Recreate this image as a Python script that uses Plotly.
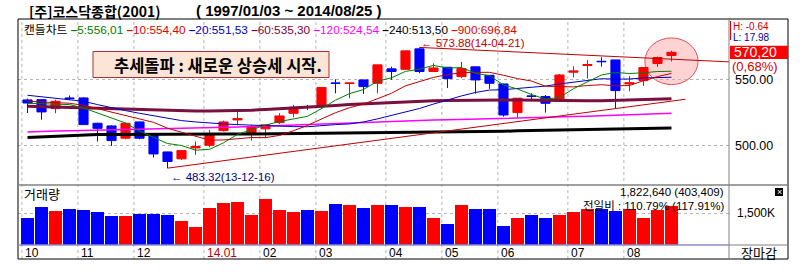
import plotly.graph_objects as go

# ---------------- data (weekly candles, 2013-10-07 .. 2014-08-25) ----------------
week_idx = list(range(47))
opens = [534.5, 534.7, 528.0, 536.0, 536.0, 517.0, 515.0, 505.8, 518.0, 508.8,
         495.5, 490.3, 498.5, 500.5, 511.5, 519.5, 509.5, 512.8, 517.5, 524.5,
         529.3, 530.0, 547.2, 546.8, 549.5, 547.0, 557.8, 557.5, 572.8, 555.8,
         559.0, 552.0, 559.3, 553.0, 546.5, 525.0, 537.5, 537.0, 533.5, 555.3,
         560.3, 563.5, 564.5, 546.5, 549.0, 561.8, 567.8]
highs = [535.5, 535.2, 534.7, 537.8, 536.5, 517.5, 515.5, 517.5, 518.2, 509.0,
         495.6, 497.0, 503.3, 512.0, 519.0, 526.0, 515.8, 516.0, 524.5, 530.8,
         530.8, 543.8, 550.0, 547.5, 549.6, 560.8, 559.5, 571.3, 573.88, 562.0,
         559.2, 563.0, 559.5, 553.2, 546.6, 535.8, 539.5, 538.2, 554.0, 559.7,
         564.5, 566.5, 564.6, 552.5, 559.0, 567.0, 571.5]
lows = [524.7, 519.7, 524.5, 534.3, 516.0, 503.3, 500.0, 505.0, 505.0, 491.3,
        483.32, 489.5, 493.3, 499.0, 510.8, 515.5, 504.0, 505.8, 516.5, 521.5,
        527.0, 527.8, 539.5, 535.8, 539.0, 539.5, 549.5, 557.0, 554.5, 555.5,
        543.5, 550.8, 539.2, 542.8, 522.0, 521.0, 534.5, 525.0, 533.0, 551.5,
        550.5, 559.5, 528.3, 541.0, 545.0, 559.3, 563.4]
closes = [532.2, 525.5, 533.5, 535.5, 516.0, 513.2, 504.0, 517.0, 505.8, 494.0,
          488.3, 496.5, 499.5, 509.0, 518.0, 520.5, 514.5, 515.8, 522.5, 529.0,
          529.0, 543.8, 547.0, 547.2, 544.5, 560.8, 555.8, 571.3, 555.8, 558.5,
          550.5, 558.0, 549.5, 547.0, 523.2, 535.8, 537.2, 532.0, 553.2, 556.2,
          561.0, 563.2, 541.5, 547.3, 558.8, 566.3, 570.2]
volumes = [1280000, 1795000, 1608000, 1702000, 1655000, 1561000, 1373000, 1373000, 1467000, 1467000,
           1420000, 1139000, 858000, 1748000, 1983000, 2030000, 1420000, 2170000, 1655000, 1561000,
           1655000, 1608000, 1936000, 1889000, 1748000, 1889000, 1889000, 1795000, 1795000, 1280000,
           998000, 1889000, 1702000, 1702000, 905000, 1280000, 1420000, 1280000, 1420000, 1561000,
           1702000, 1702000, 1608000, 1702000, 1280000, 1655000, 1822640]

ma5 = [532.0, 531.5, 531.0, 531.0, 528.5, 524.8, 520.5, 517.2, 511.2, 506.8,
       501.8, 500.3, 496.8, 497.5, 502.3, 508.7, 512.3, 515.6, 518.3, 520.5,
       522.2, 528.0, 534.3, 539.2, 542.3, 548.6, 551.1, 555.9, 557.6, 560.4,
       558.4, 558.8, 554.5, 552.7, 545.7, 542.7, 538.6, 535.1, 536.3, 542.9,
       547.9, 553.2, 555.1, 554.3, 554.9, 555.8, 556.01]
ma10 = [533.5, 533.0, 532.5, 532.0, 530.5, 528.0, 525.5, 523.0, 520.0, 517.7,
        513.3, 510.4, 507.0, 504.3, 504.5, 505.3, 506.3, 506.2, 507.9, 511.4,
        515.4, 520.2, 524.9, 528.7, 531.4, 535.4, 539.5, 545.1, 548.4, 551.4,
        553.5, 554.9, 555.2, 555.2, 553.0, 550.5, 548.7, 544.8, 544.5, 544.3,
        545.3, 545.9, 545.1, 545.3, 548.9, 552.0, 554.40]
ma20 = [538.0, 537.0, 536.0, 535.0, 533.5, 531.0, 528.5, 526.5, 524.5, 522.5,
        520.5, 519.0, 518.0, 517.0, 516.5, 516.0, 515.5, 515.0, 514.8, 514.5,
        514.4, 515.3, 516.0, 516.5, 518.0, 520.3, 522.9, 525.7, 528.1, 531.4,
        534.5, 537.5, 540.1, 541.9, 542.2, 543.0, 544.1, 544.9, 546.5, 547.8,
        549.4, 550.4, 550.1, 550.2, 551.0, 551.2, 551.53]
ma60 = [529.8, 529.5, 529.2, 529.0, 528.7, 528.4, 528.0, 527.6, 527.2, 526.8,
        526.5, 526.3, 526.2, 526.2, 526.3, 526.5, 526.8, 527.3, 527.8, 528.4,
        529.0, 529.6, 530.3, 531.0, 531.5, 532.1, 532.7, 533.2, 533.6, 533.9,
        534.1, 534.3, 534.4, 534.5, 534.5, 534.4, 534.2, 534.0, 533.9, 533.8,
        533.8, 533.9, 534.1, 534.4, 534.7, 535.0, 535.30]
ma120 = [510.5, 511.0, 511.2, 511.4, 511.6, 511.8, 512.0, 512.2, 512.4, 512.6,
         512.8, 513.0, 513.3, 513.6, 513.9, 514.2, 514.6, 515.0, 515.3, 515.7,
         516.0, 516.4, 516.8, 517.2, 517.6, 518.1, 518.6, 519.0, 519.3, 519.5,
         519.7, 519.9, 520.1, 520.3, 520.5, 520.8, 521.1, 521.4, 521.7, 522.0,
         522.3, 522.6, 522.9, 523.3, 523.7, 524.1, 524.54]
ma240 = [506.3, 506.8, 507.3, 507.8, 508.2, 508.5, 508.6, 508.7, 508.7, 508.7,
         508.7, 508.7, 508.8, 508.8, 508.9, 508.9, 509.0, 509.0, 509.0, 509.0,
         509.5, 509.5, 509.5, 509.5, 509.5, 509.6, 509.7, 509.8, 509.9, 510.0,
         510.1, 510.3, 510.6, 510.8, 511.0, 511.3, 511.5, 511.7, 511.9, 512.1,
         512.3, 512.6, 512.8, 513.0, 513.2, 513.4, 513.50]

# trend lines (index, price)
trend_up_x = [10, 47.0]
trend_up_y = [483.32, 535.0]
trend_down_x = [28, 50.2]
trend_down_y = [573.88, 563.0]

month_start_idx = [0, 4, 8, 13, 17, 21, 26, 30, 34, 39, 43]
month_labels = ["10", "11", "12", "14.01", "02", "03", "04", "05", "06", "07", "08"]

price_ticks = [500, 550]
vol_ticks = [1500000]
vol_tick_text = ["1,500K"]

ma_names = ["5", "10", "20", "60", "120", "240", "900"]
ma_legend_values = ["556,01", "554,40", "551,53", "535,30", "524,54", "513,50", "696,84"]
ma_legend_colors = ["#008000", "#e00000", "#0000c8", "#800040", "#ff00ff", "#000000", "#e00000"]

# ---------------- figure ----------------
FONT = "Liberation Sans, Noto Sans CJK KR, sans-serif"
KFONT = "Noto Sans CJK KR, sans-serif"

fig = go.Figure()

fig.add_trace(go.Candlestick(
    x=week_idx, open=opens, high=highs, low=lows, close=closes,
    increasing=dict(line=dict(color="#ff0000", width=1), fillcolor="#ff0000"),
    decreasing=dict(line=dict(color="#0000ff", width=1), fillcolor="#0000ff"),
    whiskerwidth=0, xaxis="x", yaxis="y", showlegend=False, hoverinfo="skip"))

line_specs = [
    (ma240, "#000000", 3),
    (ma120, "#ff00ff", 1.5),
    (ma60, "#7a1040", 3),
    (ma20, "#0000c0", 1),
    (ma10, "#c00000", 1),
    (ma5, "#008000", 1),
]
for vals, col, w in line_specs:
    fig.add_trace(go.Scatter(x=week_idx, y=vals, mode="lines",
                             line=dict(color=col, width=w),
                             xaxis="x", yaxis="y", showlegend=False, hoverinfo="skip"))

for tx, ty in [(trend_up_x, trend_up_y), (trend_down_x, trend_down_y)]:
    fig.add_trace(go.Scatter(x=tx, y=ty, mode="lines", line=dict(color="#c00000", width=1),
                             xaxis="x", yaxis="y", showlegend=False, hoverinfo="skip"))

vol_colors = ["#ff0000" if c >= o else "#0000ff" for o, c in zip(opens, closes)]
fig.add_trace(go.Bar(x=week_idx, y=volumes, marker=dict(color=vol_colors, line=dict(width=0)),
                     width=0.93, xaxis="x", yaxis="y2", showlegend=False, hoverinfo="skip"))

# ---------------- layout ----------------
L, R, T, B = 18, 80, 19, 35
W, H = 809, 280
PW, PH = W - L - R, H - T - B


def px(xp):
    return (xp - L) / PW


def py(yp):
    return (H - B - yp) / PH


split = py(185)

fig.update_layout(
    width=W, height=H, margin=dict(l=L, r=R, t=T, b=B),
    paper_bgcolor="white", plot_bgcolor="white",
    boxgap=0.07, bargap=0,
    font=dict(family=FONT, size=12, color="black"),
    xaxis=dict(domain=[0, 1], range=[-0.68, 50.11], anchor="y2",
               showticklabels=False, showgrid=False, zeroline=False,
               showline=False, ticks="", rangeslider=dict(visible=False), fixedrange=True),
    yaxis=dict(domain=[split, 1], range=[470.7, 595.2], side="right",
               tickvals=price_ticks, ticktext=[f"{v:.2f}" for v in price_ticks],
               showgrid=True, gridcolor="#b4b4b4", griddash="dot", gridwidth=1,
               zeroline=False, showline=False, ticks="", ticklabelstandoff=5,
               tickfont=dict(size=12.5, color="black")),
    yaxis2=dict(domain=[0, split], range=[0, 2812500], side="right",
                tickvals=vol_ticks, ticktext=vol_tick_text,
                showgrid=True, gridcolor="#b4b4b4", griddash="dot", gridwidth=1,
                zeroline=False, showline=False, ticks="", ticklabelstandoff=7,
                tickfont=dict(size=12, color="black")),
)

shapes = []
# highlight circle
shapes.append(dict(type="circle", xref="x", yref="y", x0=44.1, x1=47.9, y0=546.0, y1=581.0,
                   fillcolor="rgba(255,150,150,0.42)", line=dict(color="#e05050", width=1),
                   layer="below"))
# month grid lines
for m in month_start_idx:
    shapes.append(dict(type="line", xref="x", yref="paper", x0=m - 0.4, x1=m - 0.4,
                       y0=py(259), y1=1, line=dict(color="#b4b4b4", width=1, dash="dot"),
                       layer="below"))
# frame
shapes.append(dict(type="rect", xref="paper", yref="paper", x0=0, x1=px(788), y0=py(259), y1=1,
                   line=dict(color="black", width=1), fillcolor="rgba(0,0,0,0)"))
shapes.append(dict(type="line", xref="paper", yref="paper", x0=1, x1=1, y0=py(259), y1=1,
                   line=dict(color="#808080", width=1)))
shapes.append(dict(type="line", xref="paper", yref="paper", x0=0, x1=px(788), y0=split, y1=split,
                   line=dict(color="#808080", width=1.5)))
shapes.append(dict(type="line", xref="paper", yref="paper", x0=0, x1=1, y0=0, y1=0,
                   line=dict(color="#8c8cc8", width=1.5)))
shapes.append(dict(type="line", xref="paper", yref="paper", x0=1, x1=px(788), y0=0, y1=0,
                   line=dict(color="#808080", width=1)))
# message box
shapes.append(dict(type="rect", xref="paper", yref="paper", x0=px(93), x1=px(329),
                   y0=py(77.5), y1=py(51.5), fillcolor="#fce4d6",
                   line=dict(color="#b03030", width=1)))
# current price box on right scale
shapes.append(dict(type="rect", xref="paper", yref="y", x0=px(730), x1=px(788),
                   y0=closes[-1] - 5, y1=closes[-1] + 5, fillcolor="#ff0000",
                   line=dict(width=0)))
# red marker line by H/L
shapes.append(dict(type="line", xref="paper", yref="paper", x0=px(730.5), x1=px(730.5),
                   y0=py(40), y1=py(21), line=dict(color="#e00000", width=1)))
# small close icon
shapes.append(dict(type="rect", xref="paper", yref="paper", x0=px(775), x1=px(783),
                   y0=py(196), y1=py(188), fillcolor="black", line=dict(width=0)))
fig.update_layout(shapes=shapes)

ann = []
# header
ann.append(dict(text="<b>[주]코스닥종합(2001)</b>", xref="paper", yref="paper", x=px(27),
                y=py(11), xanchor="left", yanchor="middle", showarrow=False,
                font=dict(family=KFONT, size=14, color="black")))
ann.append(dict(text="<b>( 1997/01/03 ~ 2014/08/25 )</b>", xref="paper", yref="paper",
                x=px(194), y=py(11), xanchor="left", yanchor="middle", showarrow=False,
                font=dict(family=FONT, size=15, color="black")))
# MA legend
parts = ["캔들차트"]
for n, v, c in zip(ma_names, ma_legend_values, ma_legend_colors):
    parts.append(f'<span style="color:{c}"><b>–</b>{n}:{v}</span>')
ann.append(dict(text=" ".join(parts), xref="paper", yref="paper", x=px(23), y=py(29.5),
                xanchor="left", yanchor="middle", showarrow=False, borderpad=0,
                font=dict(family=FONT, size=11.8, color="black")))
# message
ann.append(dict(text="<b>추세돌파 : 새로운 상승세 시작.</b>", xref="paper", yref="paper",
                x=px(112), y=py(64.5), xanchor="left", yanchor="middle", showarrow=False,
                font=dict(family=KFONT, size=16.5, color="black")))
# high / low labels
i_hi = max(range(len(highs)), key=lambda i: highs[i])
i_lo = min(range(len(lows)), key=lambda i: lows[i])
ann.append(dict(text=f"← {highs[i_hi]:.2f}(14-04-21)", x=week_idx[i_hi], y=highs[i_hi],
                xref="x", yref="y", xanchor="left", yanchor="bottom", xshift=1, yshift=-3,
                showarrow=False, borderpad=0, font=dict(size=11.5, color="#c00000")))
ann.append(dict(text=f"← {lows[i_lo]:.2f}(13-12-16)", x=week_idx[i_lo], y=lows[i_lo],
                xref="x", yref="y", xanchor="left", yanchor="top", xshift=1, yshift=-1,
                showarrow=False, font=dict(size=11.5, color="#000080")))
# right panel texts
ann.append(dict(text="H: -0.64", xref="paper", yref="paper", x=px(732), y=py(26),
                xanchor="left", yanchor="middle", showarrow=False, borderpad=0,
                font=dict(size=10, color="#d00000")))
ann.append(dict(text="L: 17.98", xref="paper", yref="paper", x=px(732), y=py(37),
                xanchor="left", yanchor="middle", showarrow=False, borderpad=0,
                font=dict(size=10, color="#0000a0")))
ann.append(dict(text=f"{closes[-1]:.2f}".replace(".", ","), xref="paper", yref="y", x=px(732),
                y=closes[-1], xanchor="left", yanchor="middle", showarrow=False,
                font=dict(size=14, color="white")))
ann.append(dict(text="(0,68%)", xref="paper", yref="paper", x=px(731), y=py(66),
                xanchor="left", yanchor="middle", showarrow=False, borderpad=0,
                font=dict(size=13, color="#d00000")))
# volume pane texts
ann.append(dict(text="거래량", xref="paper", yref="paper", x=px(22), y=py(193),
                xanchor="left", yanchor="middle", showarrow=False,
                font=dict(family=KFONT, size=13, color="black")))
ann.append(dict(text=f"{volumes[-1]:,} (403,409)", xref="paper", yref="paper", x=px(726),
                y=py(192), xanchor="right", yanchor="middle", showarrow=False,
                font=dict(size=11.5, color="black")))
ann.append(dict(text="전일비 : 110.79% (117.91%)", xref="paper", yref="paper", x=px(726),
                y=py(205.5), xanchor="right", yanchor="middle", showarrow=False,
                font=dict(size=11.5, color="black")))
ann.append(dict(text="×", xref="paper", yref="paper", x=px(779), y=py(192),
                xanchor="center", yanchor="middle", showarrow=False,
                font=dict(size=9, color="white")))
ann.append(dict(text="장마감", xref="paper", yref="paper", x=px(759), y=py(252),
                xanchor="center", yanchor="middle", showarrow=False,
                font=dict(family=KFONT, size=13, color="black")))
# month labels
for m, lab in zip(month_start_idx, month_labels):
    ann.append(dict(text=lab, xref="x", yref="paper", x=m - 0.4, y=py(252.5),
                    xanchor="left", yanchor="middle", xshift=1, showarrow=False,
                    font=dict(size=12, color="#c00000" if "." in lab else "black")))
fig.update_layout(annotations=ann)

fig.write_html("out.html")
